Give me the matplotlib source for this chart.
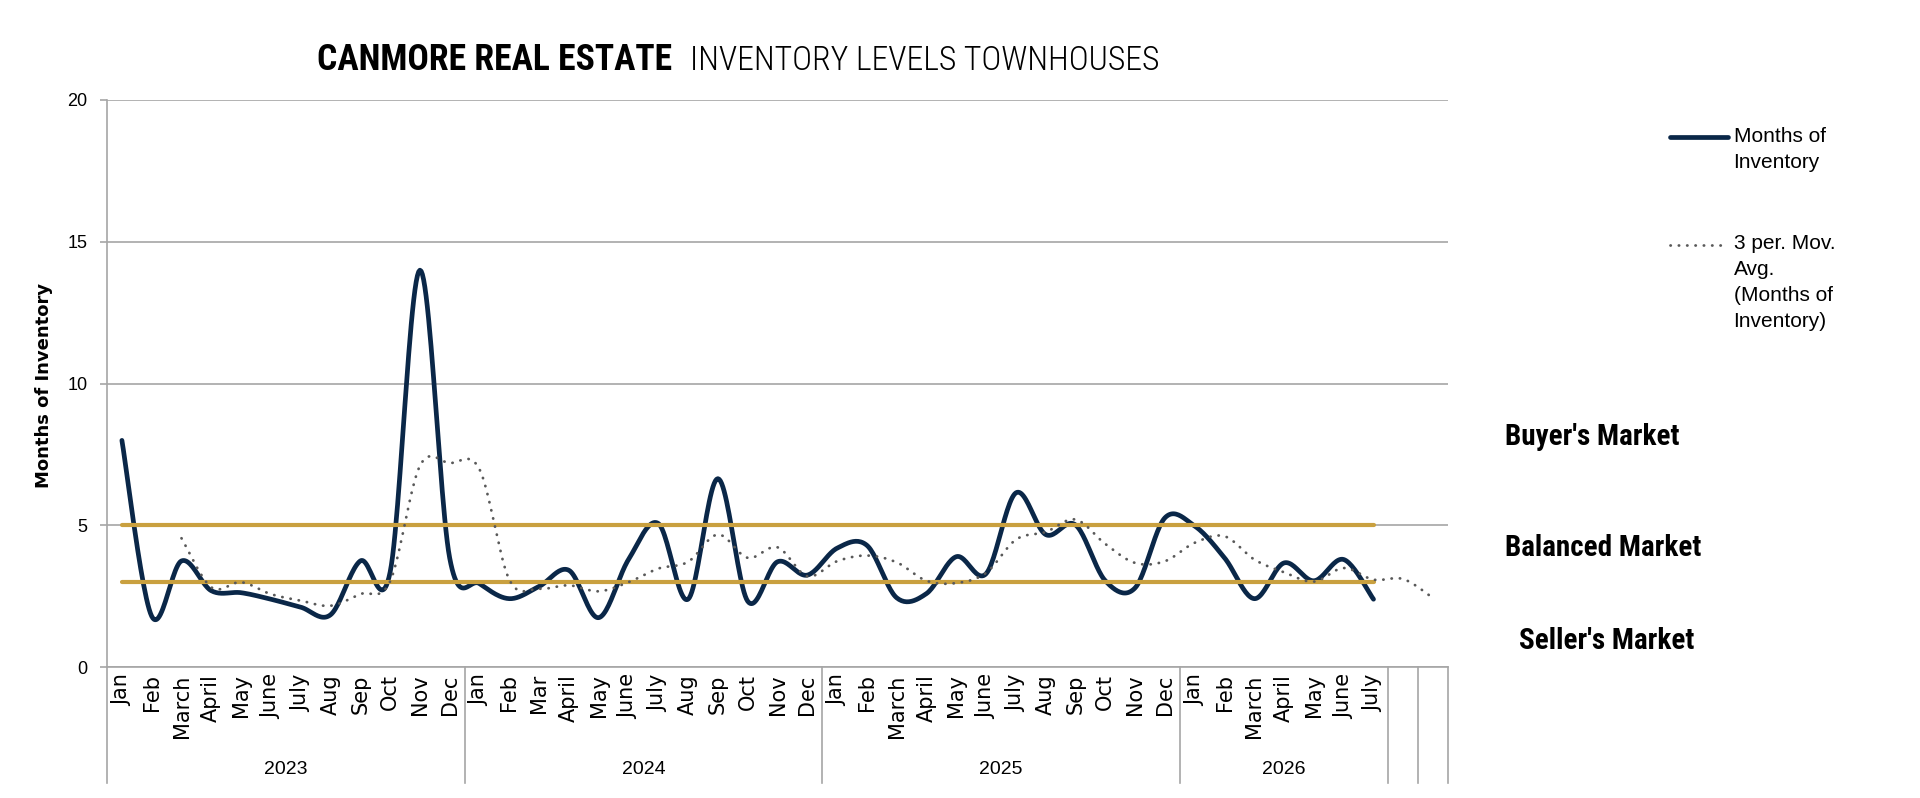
import numpy as np
import matplotlib
matplotlib.use("Agg")
import matplotlib.pyplot as plt
from matplotlib import font_manager as fm
from matplotlib.transforms import blended_transform_factory
from matplotlib.legend_handler import HandlerLine2D

# ---------------- data ----------------
month_labels = (
    ["Jan", "Feb", "March", "April", "May", "June", "July", "Aug", "Sep", "Oct", "Nov", "Dec"]
    + ["Jan", "Feb", "Mar", "April", "May", "June", "July", "Aug", "Sep", "Oct", "Nov", "Dec"]
    + ["Jan", "Feb", "March", "April", "May", "June", "July", "Aug", "Sep", "Oct", "Nov", "Dec"]
    + ["Jan", "Feb", "March", "April", "May", "June", "July"]
    + ["", ""]
)
year_groups = ["2023", "2024", "2025", "2026", "", ""]
year_sizes = [12, 12, 12, 7, 1, 1]

months_of_inventory = [
    8.0, 1.8, 3.75, 2.7, 2.63, 2.4, 2.12, 1.85, 3.75, 3.35, 14.0, 3.85,
    2.95, 2.42, 2.85, 3.42, 1.75, 3.8, 5.07, 2.4, 6.65, 2.33, 3.72, 3.25,
    4.2, 4.3, 2.45, 2.6, 3.9, 3.3, 6.15, 4.68, 5.02, 3.05, 2.8, 5.27,
    4.98, 3.86, 2.42, 3.68, 3.05, 3.8, 2.4,
]
moving_avg = [
    None, None, 4.55, 2.82, 3.0, 2.58, 2.35, 2.17, 2.58, 3.03, 7.1, 7.2,
    6.98, 3.09, 2.77, 2.89, 2.68, 3.0, 3.48, 3.72, 4.68, 3.86, 4.23, 3.21,
    3.74, 3.94, 3.7, 3.05, 2.97, 3.33, 4.5, 4.77, 5.21, 4.35, 3.68, 3.74,
    4.39, 4.62, 3.8, 3.35, 3.02, 3.5, 3.09, 3.11, 2.44,
]
market_thresholds = [5, 3]
market_labels = ["Buyer's Market", "Balanced Market", "Seller's Market"]
legend_labels = ["Months of\nInventory", "3 per. Mov.\nAvg.\n(Months of\nInventory)"]

NAVY = "#0A2748"
GOLD = "#C9A03F"
DOTS = "#595959"
GRID = "#A6A6A6"
SANS = ["Liberation Sans", "DejaVu Sans"]


def has_font(name):
    try:
        fm.findfont(fm.FontProperties(family=name), fallback_to_default=False)
        return True
    except Exception:
        return False


CONDENSED = None
for cand in ["Roboto Condensed", "Liberation Sans Narrow", "Open Sans Condensed"]:
    if has_font(cand):
        CONDENSED = cand
        break
if CONDENSED:
    TITLE_FAM = [CONDENSED, "DejaVu Sans"]
    title_sizes = (25.7, 24.3)
    market_size = 21
else:
    TITLE_FAM = SANS
    title_sizes = (20.7, 19.6)
    market_size = 18


def smooth(xs, ys, n=24):
    """Excel-like smoothed line (Catmull-Rom Bezier) through the given points."""
    pts = np.column_stack([xs, ys]).astype(float)
    P = np.vstack([pts[0], pts, pts[-1]])
    out = []
    t = np.linspace(0, 1, n, endpoint=False)[:, None]
    for i in range(1, len(P) - 2):
        p0, p1, p2, p3 = P[i - 1], P[i], P[i + 1], P[i + 2]
        c1 = p1 + (p2 - p0) / 6.0
        c2 = p2 - (p3 - p1) / 6.0
        seg = ((1 - t) ** 3) * p1 + 3 * ((1 - t) ** 2) * t * c1 + 3 * (1 - t) * t ** 2 * c2 + t ** 3 * p2
        out.append(seg)
    out.append(pts[-1][None, :])
    arr = np.vstack(out)
    return arr[:, 0], arr[:, 1]


class TopLineHandler(HandlerLine2D):
    """Place the legend key beside the first line of a multi-line label."""

    def __init__(self, shift_pt, **kw):
        super().__init__(**kw)
        self.shift_pt = shift_pt

    def create_artists(self, legend, orig_handle, xdescent, ydescent, width, height,
                       fontsize, trans):
        arts = super().create_artists(legend, orig_handle, xdescent, ydescent, width,
                                      height, fontsize, trans)
        for a in arts:
            a.set_ydata(np.asarray(a.get_ydata(), dtype=float) + self.shift_pt)
        return arts


fig = plt.figure(figsize=(19.2, 7.98), dpi=100)
ax = fig.add_axes([107 / 1920, 1 - 667.3 / 798, (1448 - 107) / 1920, (667.3 - 100) / 798])

n_cat = len(month_labels)
x_all = np.arange(n_cat)
x_inv = np.arange(len(months_of_inventory))

# main series
sx, sy = smooth(x_inv, months_of_inventory)
inv_line, = ax.plot(sx, sy, color=NAVY, lw=3.4, solid_capstyle="round", zorder=3)

# threshold lines
ax.hlines(market_thresholds, xmin=x_inv[0], xmax=x_inv[-1], colors=GOLD,
          linewidth=3.0, zorder=4, capstyle="round")

# moving average
ma_x = [i for i, v in enumerate(moving_avg) if v is not None]
ma_y = [v for v in moving_avg if v is not None]
mx, my = smooth(ma_x, ma_y)
ma_line, = ax.plot(mx, my, color=DOTS, lw=2.0, linestyle=(0, (0.1, 2.9)),
                   dash_capstyle="round", zorder=5)

# axes styling
ax.set_xlim(-0.5, n_cat - 0.5)
ax.set_ylim(0, 20)
ax.set_yticks([0, 5, 10, 15, 20])
ax.yaxis.grid(True, color=GRID, lw=1.2)
ax.set_axisbelow(True)
for s in ["top", "right"]:
    ax.spines[s].set_visible(False)
for s in ["left", "bottom"]:
    ax.spines[s].set_color(GRID)
    ax.spines[s].set_linewidth(1.2)
ax.tick_params(axis="y", length=5, color=GRID, width=1.2, pad=9)
for lab in ax.get_yticklabels():
    lab.set_fontfamily(SANS)
    lab.set_fontsize(13)

ax.set_xticks(x_all)
ax.set_xticklabels(month_labels, rotation=90, fontsize=15, fontfamily="DejaVu Sans")
ax.tick_params(axis="x", length=0, pad=5)

# category group separators & year labels
trans = blended_transform_factory(ax.transData, ax.transAxes)
sep_bottom = -(783 - 667.3) / (667.3 - 100)
year_y = -(769 - 667.3) / (667.3 - 100)
edges = np.concatenate([[0], np.cumsum(year_sizes)]) - 0.5
for e in edges:
    ax.plot([e, e], [0, sep_bottom], color=GRID, lw=1.2, transform=trans, clip_on=False)
for name, a, b in zip(year_groups, edges[:-1], edges[1:]):
    if name:
        ax.text((a + b) / 2, year_y, name, transform=trans, ha="center", va="center",
                fontsize=14, fontfamily=SANS)

# y label
fig.text(44 / 1920, 1 - 385 / 798, "Months of Inventory", rotation=90, ha="center",
         va="center", fontsize=13, fontweight="bold", fontfamily="DejaVu Sans")

# title
fig.text(317 / 1920, 1 - 70 / 798, "CANMORE REAL ESTATE", ha="left", va="baseline",
         fontsize=title_sizes[0], fontweight=900, fontfamily=TITLE_FAM)
fig.text(690 / 1920, 1 - 70 / 798, "INVENTORY LEVELS TOWNHOUSES", ha="left", va="baseline",
         fontsize=title_sizes[1], fontweight=300, fontfamily=TITLE_FAM)

# market labels
market_pos = [(1505, 437), (1505, 548), (1519, 641)]
for lab, (px, py) in zip(market_labels, market_pos):
    fig.text(px / 1920, 1 - py / 798, lab, ha="left", va="center", fontsize=market_size,
             fontweight="bold", fontfamily=TITLE_FAM)

# legend
leg_size = 15
line_spacing = 1.47
step_pt = leg_size * 0.73 * line_spacing  # baseline step in points
nlines = [lab.count("\n") + 1 for lab in legend_labels]
handlers = {
    inv_line: TopLineHandler((nlines[0] - 1) * step_pt / 2 + 0.08 * leg_size),
    ma_line: TopLineHandler((nlines[1] - 1) * step_pt / 2 + 0.18 * leg_size),
}
leg = ax.legend([inv_line, ma_line], legend_labels, handler_map=handlers,
                loc="upper left", bbox_to_anchor=(1670 / 1920, 1 - 127 / 798),
                bbox_transform=fig.transFigure, frameon=False, borderpad=0,
                borderaxespad=0, handlelength=2.8, handletextpad=0.25,
                labelspacing=2.95, prop={"family": SANS, "size": leg_size})
for t in leg.get_texts():
    t.set_linespacing(line_spacing)

fig.savefig("out.png", dpi=100, facecolor="white")
